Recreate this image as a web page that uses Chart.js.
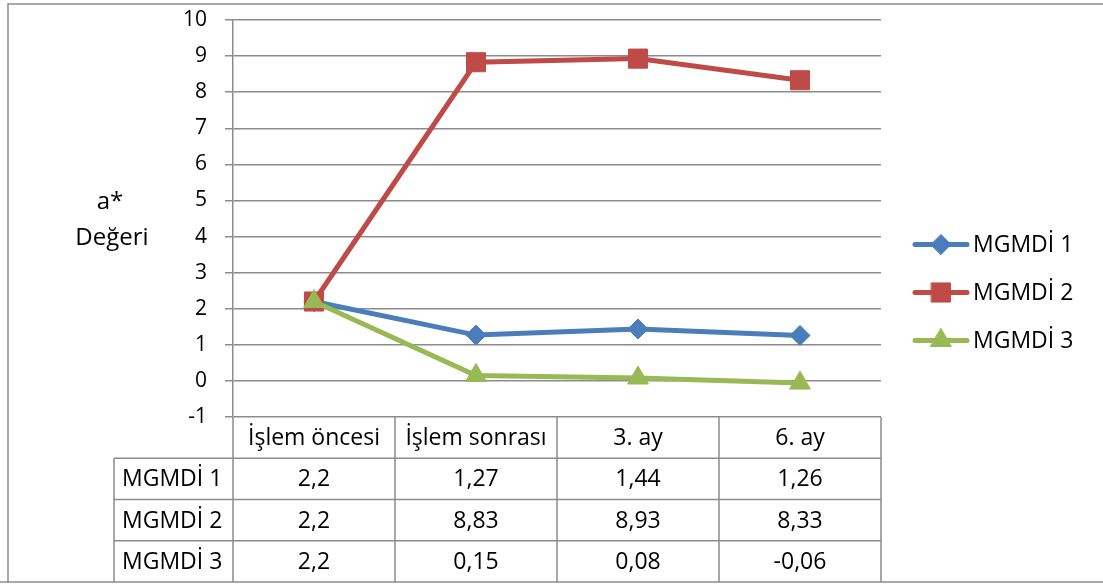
<!DOCTYPE html>
<html>
<head>
<meta charset="utf-8">
<script src="https://cdn.jsdelivr.net/npm/chart.js@4/dist/chart.umd.min.js"></script>
<style>
  html, body { margin: 0; padding: 0; background: #ffffff; }
  #wrap { position: relative; width: 1103px; height: 585px; }
</style>
</head>
<body>
<div id="wrap"><canvas id="chart" width="1103" height="585"></canvas></div>
<script>
// Measurement periods (x categories)
const categories = ['İşlem öncesi', 'İşlem sonrası', '3. ay', '6. ay'];
// Series names
const seriesNames = ['MGMDİ 1', 'MGMDİ 2', 'MGMDİ 3'];
// a* values per series
const mgmdi1 = [2.2, 1.27, 1.44, 1.26];
const mgmdi2 = [2.2, 8.83, 8.93, 8.33];
const mgmdi3 = [2.2, 0.15, 0.08, -0.06];
// Value axis range
const yMin = -1;
const yMax = 10;
const yStep = 1;
// Axis title lines
const axisTitle = ['a*', 'Değeri'];

const FONT = '"Open Sans", "DejaVu Sans", sans-serif';
const GRID = '#8c8c8c';
const seriesColors = ['#4a7ebb', '#be4b48', '#98b954'];
const seriesPoints = [
  { style: 'rectRot', radius: 10 },
  { style: 'rect', radius: 13.5 },
  { style: 'triangle', radius: 12 }
];
const seriesValues = [mgmdi1, mgmdi2, mgmdi3];

const fmt = v => String(v).replace('.', ',');

// Outer frame, axis title, legend and data table underneath the plot
const extras = {
  id: 'extras',
  afterDraw(chart) {
    const ctx = chart.ctx;
    const area = chart.chartArea;
    const xs = chart.scales.x;
    const n = categories.length;
    const colW = (area.right - area.left) / n;
    const tableTop = area.bottom;
    const tableBottom = 582;
    const rowH = (tableBottom - tableTop) / (seriesNames.length + 1);
    const labelLeft = 114;

    ctx.save();
    ctx.strokeStyle = GRID;
    ctx.lineWidth = 1.5;

    // outer frame
    ctx.beginPath();
    ctx.moveTo(8, tableBottom);
    ctx.lineTo(8, 4);
    ctx.lineTo(1103, 4);
    ctx.moveTo(0, tableBottom);
    ctx.lineTo(1103, tableBottom);
    ctx.stroke();

    // table grid
    ctx.beginPath();
    for (let i = 0; i <= n; i++) {
      const x = area.left + i * colW;
      ctx.moveTo(x, tableTop);
      ctx.lineTo(x, tableBottom);
    }
    for (let r = 1; r <= seriesNames.length; r++) {
      const y = tableTop + r * rowH;
      ctx.moveTo(labelLeft, y);
      ctx.lineTo(area.right, y);
    }
    ctx.moveTo(labelLeft, tableTop + rowH);
    ctx.lineTo(labelLeft, tableBottom);
    ctx.stroke();

    // table text
    ctx.fillStyle = '#000000';
    ctx.font = '23px ' + FONT;
    ctx.textBaseline = 'middle';
    ctx.textAlign = 'center';
    categories.forEach((c, i) => {
      ctx.fillText(c, xs.getPixelForValue(i), tableTop + rowH / 2 + 1);
    });
    seriesNames.forEach((name, r) => {
      const yc = tableTop + (r + 1.5) * rowH + 1;
      ctx.textAlign = 'left';
      ctx.fillText(name, labelLeft + 8, yc);
      ctx.textAlign = 'center';
      seriesValues[r].forEach((v, i) => {
        ctx.fillText(fmt(v), xs.getPixelForValue(i), yc);
      });
    });

    // axis title
    ctx.font = '24px ' + FONT;
    ctx.textAlign = 'center';
    ctx.fillText(axisTitle[0], 110, 202);
    ctx.fillText(axisTitle[1], 112, 238);

    // legend
    ctx.font = '23px ' + FONT;
    const cy = chart.height / 2;
    const gap = 48;
    chart.data.datasets.forEach((ds, i) => {
      const y = cy + (i - 1) * gap;
      ctx.strokeStyle = ds.borderColor;
      ctx.lineWidth = 5;
      ctx.lineCap = 'round';
      ctx.beginPath();
      ctx.moveTo(915, y);
      ctx.lineTo(967, y);
      ctx.stroke();
      ctx.fillStyle = ds.pointBackgroundColor;
      ctx.strokeStyle = ds.pointBorderColor;
      ctx.lineWidth = 1;
      Chart.helpers.drawPoint(ctx, {
        pointStyle: ds.pointStyle,
        radius: ds.pointRadius,
        borderWidth: 1
      }, 941, y);
      ctx.fillStyle = '#000000';
      ctx.textAlign = 'left';
      ctx.fillText(ds.label, 973, y + 1);
    });
    ctx.restore();
  }
};

const datasets = seriesNames.map((name, i) => ({
  label: name,
  data: seriesValues[i],
  borderColor: seriesColors[i],
  backgroundColor: seriesColors[i],
  borderWidth: 5,
  pointStyle: seriesPoints[i].style,
  pointRadius: seriesPoints[i].radius,
  pointBackgroundColor: seriesColors[i],
  pointBorderColor: seriesColors[i],
  pointBorderWidth: 1,
  tension: 0,
  order: seriesNames.length - i
}));

new Chart(document.getElementById('chart'), {
  type: 'line',
  data: { labels: categories, datasets },
  options: {
    responsive: false,
    animation: false,
    devicePixelRatio: 1,
    layout: { padding: { left: 0, top: 20, right: 222, bottom: 168 } },
    plugins: { legend: { display: false }, tooltip: { enabled: false } },
    scales: {
      x: { type: 'category', offset: true, display: false },
      y: {
        min: yMin,
        max: yMax,
        afterFit(scale) {
          scale.width = 233;
          scale.paddingTop = 0;
          scale.paddingBottom = 0;
        },
        ticks: {
          stepSize: yStep,
          color: '#000000',
          padding: 18,
          font: { family: FONT, size: 21 }
        },
        grid: { color: GRID, lineWidth: 1.5, tickLength: 8, drawTicks: true },
        border: { color: GRID, width: 1.5 }
      }
    }
  },
  plugins: [extras]
});
</script>
</body>
</html>
